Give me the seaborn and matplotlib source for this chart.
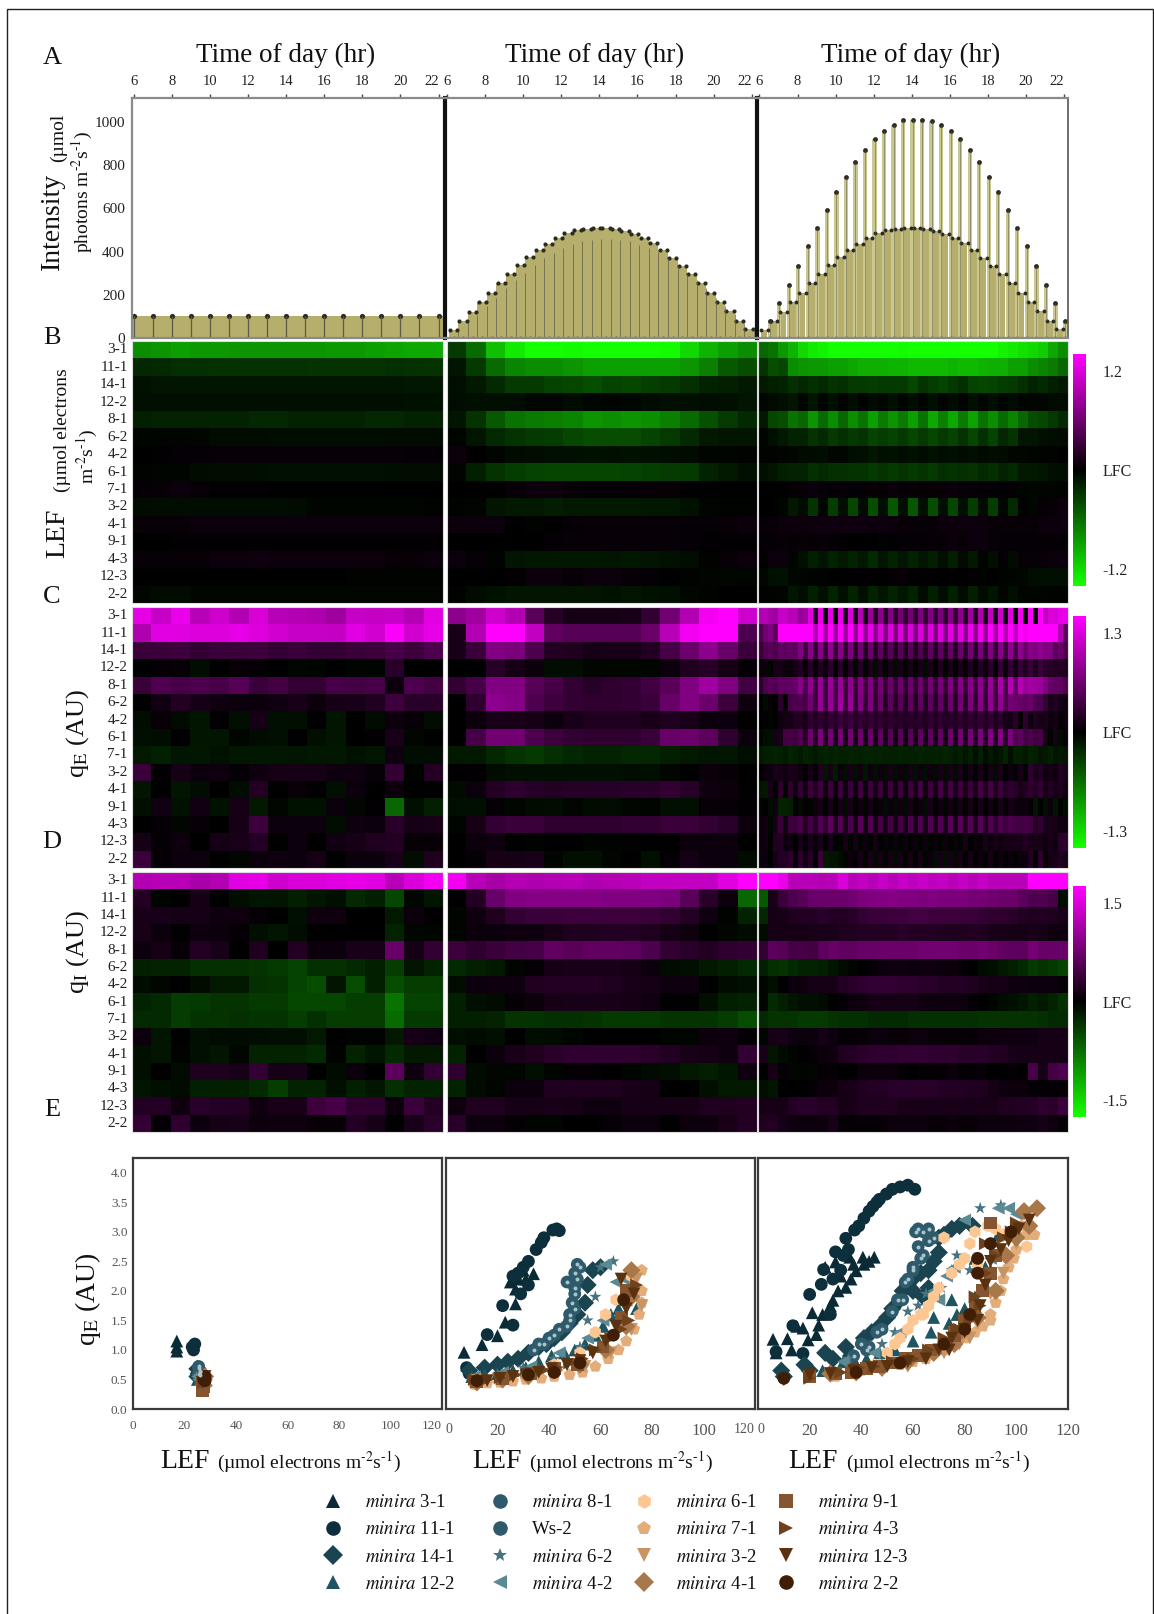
import numpy as np
import pandas as pd
import seaborn as sns
from matplotlib import pyplot as plt
from matplotlib.colors import LinearSegmentedColormap
from matplotlib.lines import Line2D
from matplotlib.patches import Rectangle

W, H = 1154, 1614

# row labels of the heatmaps
heat_lines = ['3-1', '11-1', '14-1', '12-2', '8-1', '6-2', '4-2', '6-1', '7-1', '3-2', '4-1', '9-1', '4-3', '12-3', '2-2']

# light regimes (umol photons)
hours = list(range(6, 23))
low_light = [100, 102, 100, 102, 100, 100, 100, 100, 100, 100, 102, 100, 102, 100, 102, 102, 100]
dome_light = [38, 77, 119, 165, 208, 255, 296, 336, 373, 409, 435, 463, 486, 500, 506, 508, 508, 506, 497, 480, 463, 440, 409, 370, 332, 296, 255, 208, 167, 123, 77, 40]
peak_light = [77, 162, 247, 335, 424, 509, 594, 676, 745, 815, 872, 921, 957, 988, 1008, 1011, 1011, 1003, 985, 957, 921, 869, 815, 745, 674, 594, 509, 424, 335, 247, 162, 77]

# heat values, percent of the colour scale (magenta +, green -)
lef_left = [
    [-55, -58, -62, -60, -60, -58, -58, -58, -58, -58, -60, -60, -62, -64, -66, -66],
    [-15, -16, -18, -18, -19, -19, -19, -19, -19, -20, -20, -20, -20, -18, -19, -20],
    [-7, -8, -8, -8, -8, -8, -8, -8, -8, -8, -8, -8, -8, -8, -9, -9],
    [-6, -6, -6, -6, -6, -6, -6, -6, -6, -6, -6, -6, -6, -6, -7, -7],
    [-12, -14, -14, -14, -14, -14, -15, -15, -14, -14, -14, -14, -15, -15, -14, -14],
    [-2, -2, -2, -3, -4, -4, -4, -5, -5, -5, -5, -5, -5, -4, -4, -4],
    [0, 1, 2, 2, 3, 3, 3, 3, 3, 3, 3, 3, 3, 3, 2, 2],
    [-1, -2, -2, -4, -5, -5, -5, -6, -6, -6, -6, -6, -6, -5, -5, -5],
    [2, 3, 4, 3, 1, 1, 1, 0, 0, 0, 0, 0, 0, 0, 0, 0],
    [-4, -5, -5, -5, -5, -5, -5, -5, -4, -2, -2, -2, -2, -2, -2, -1],
    [3, 3, 3, 4, 4, 4, 4, 5, 5, 4, 4, 4, 4, 4, 4, 4],
    [0, 0, 1, 1, 1, 1, 1, 1, 1, 1, 1, 1, 1, 1, 1, 1],
    [3, 3, 3, 3, 4, 5, 6, 5, 4, 4, 4, 4, 4, 3, 3, 5],
    [0, 0, 0, 0, 0, 0, 0, 0, 0, 0, 0, -1, -1, -1, -1, -1],
    [-3, -4, -4, -3, -3, -3, -3, -3, -3, -3, -3, -3, -3, -3, -3, -3],
]
lef_mid = [
    [-22, -42, -75, -92, -100, -100, -98, -100, -100, -100, -100, -98, -85, -70, -62, -55],
    [-8, -22, -42, -52, -55, -55, -58, -62, -62, -62, -62, -62, -58, -50, -35, -30],
    [-6, -10, -16, -22, -22, -26, -28, -30, -26, -28, -25, -22, -18, -14, -12, -10],
    [-5, -6, -6, -5, -3, -3, -4, -3, -2, -3, -4, -6, -6, -5, -6, -8],
    [-8, -20, -35, -45, -48, -50, -52, -58, -56, -58, -56, -50, -42, -32, -22, -16],
    [-2, -8, -16, -20, -22, -24, -28, -30, -30, -30, -26, -22, -16, -10, -8, -8],
    [4, 0, -2, -4, -5, -6, -6, -7, -6, -7, -6, -5, -4, -2, -2, -1],
    [-2, -12, -20, -24, -26, -27, -27, -27, -27, -26, -25, -23, -22, -14, -10, -6],
    [0, 0, 0, 3, 4, 4, 3, 2, 2, 2, 3, 3, 1, 0, 0, 0],
    [-1, -2, -8, -10, -10, -11, -10, -10, -10, -10, -9, -9, -7, -2, -1, -1],
    [5, 5, 4, 0, -1, 0, 2, 3, 3, 3, 3, 3, 2, 2, 3, 4],
    [0, 0, 0, 0, 0, 2, 3, 3, 3, 3, 3, 3, 2, 1, 1, 1],
    [5, 3, -1, -8, -9, -9, -9, -9, -8, -9, -8, -7, -5, -1, 3, 4],
    [0, 0, 0, 1, 4, 4, 3, 4, 4, 3, 2, 0, -1, -2, -3, -2],
    [-1, -4, -7, -8, -8, -8, -8, -8, -7, -8, -7, -6, -3, -1, 0, 0],
]
lef_right = [
    [-40, -45, -60, -70, -85, -92, -95, -100, -100, -100, -100, -100, -100, -100, -98, -100, -100, -100, -100, -100, -100, -100, -100, -100, -95, -92, -88, -85, -80, -65, -55],
    [-20, -30, -28, -55, -58, -60, -60, -62, -62, -65, -68, -68, -68, -70, -70, -72, -72, -72, -72, -70, -72, -72, -70, -68, -68, -62, -62, -55, -52, -48, -40],
    [-10, -12, -14, -18, -15, -18, -16, -20, -18, -22, -22, -24, -22, -22, -22, -28, -20, -24, -26, -22, -18, -26, -28, -26, -24, -22, -18, -14, -16, -12, -10],
    [-3, -4, -6, -8, -3, -8, -2, -6, -1, -5, -1, -4, -3, -6, -2, -5, -2, -6, -2, -4, -1, -6, -3, -6, -2, -4, -2, -3, -3, -4, -4],
    [-10, -28, -30, -45, -40, -58, -42, -55, -40, -56, -45, -62, -48, -58, -48, -62, -45, -66, -50, -66, -48, -64, -45, -56, -42, -52, -40, -30, -28, -22, -16],
    [-2, -6, -10, -14, -14, -20, -16, -22, -18, -22, -20, -26, -24, -26, -22, -28, -22, -28, -22, -26, -20, -28, -18, -26, -15, -20, -8, -8, -6, -5, -4],
    [-1, -1, -2, -3, -4, -4, -5, -3, -3, -5, -6, -8, -6, -7, -5, -7, -4, -7, -5, -6, -4, -6, -4, -5, -4, -3, -3, -2, -1, -1, 0],
    [-6, -8, -12, -14, -14, -18, -16, -18, -18, -20, -20, -22, -20, -22, -20, -22, -20, -22, -18, -20, -18, -20, -16, -18, -14, -16, -10, -10, -8, -6, -5],
    [0, 0, 0, 2, 3, 4, 3, 2, 3, 2, 2, 3, 2, 4, 2, 3, 2, 3, 3, 4, 3, 3, 2, 2, 1, 2, -2, -3, -2, -2, -1],
    [0, 0, -2, -10, -4, -20, -3, -24, -6, -28, -4, -30, -6, -34, -6, -34, -6, -30, -6, -28, -6, -24, -4, -24, -3, -16, -1, -3, 2, 3, 4],
    [2, 3, 4, 4, 4, 4, 6, 6, 6, 6, 6, 5, 6, 4, 3, 3, 3, 3, 4, 4, 5, 5, 4, 3, 3, 3, 3, 3, 4, 5, 4],
    [2, 2, 3, 2, 3, 2, 3, 2, 1, 0, 0, 0, -1, 1, 2, 2, 2, 3, 2, 4, 3, 4, 4, 3, 2, 2, 2, 2, 2, 2, 2],
    [1, 5, 5, -2, -6, -12, -8, -14, -10, -14, -10, -16, -8, -14, -8, -14, -8, -12, -6, -12, -4, -10, -2, -6, 2, -4, 3, 3, 3, 4, 5],
    [-3, -6, -7, -3, -2, -1, -1, 0, 0, 1, 1, 1, 0, 2, 3, 1, 1, 1, 0, 1, 0, 2, -1, 0, -1, -2, -3, -5, -6, -6, -6],
    [-1, -1, -2, -8, -5, -12, -6, -14, -6, -14, -6, -14, -8, -14, -8, -14, -4, -12, -5, -12, -4, -12, -4, -8, -2, -6, -2, -2, -2, -1, -1],
]

qe_left = [
    [90, 78, 92, 72, 80, 70, 84, 72, 70, 68, 62, 78, 76, 78, 70, 88],
    [68, 88, 88, 86, 86, 90, 86, 82, 78, 78, 76, 88, 82, 98, 82, 90],
    [22, 22, 24, 20, 22, 22, 24, 20, 22, 20, 20, 22, 24, 28, 24, 30],
    [0, 2, 3, -5, 0, 3, 2, 0, -3, -2, 0, -2, -2, 16, 0, 0],
    [22, 32, 28, 30, 28, 34, 22, 26, 20, 20, 28, 26, 28, 5, 30, 26],
    [0, 7, 14, 8, 6, 5, 5, 7, 10, 5, 8, 10, 12, 24, 16, 16],
    [-5, 3, -4, -8, 1, -6, 8, -6, -6, 1, -8, 0, -4, 5, 3, -5],
    [-6, -5, 1, -8, -8, -2, -4, -6, 0, -6, -8, 0, 1, 10, -3, 0],
    [-10, -12, -8, -9, -7, -9, -9, -9, -8, -9, -9, -7, -8, 6, -5, -5],
    [22, 1, 8, 5, 6, 2, 6, 8, 8, 8, 6, 6, 3, 20, -1, 14],
    [-8, 0, -8, -5, 0, -5, 14, 0, 3, 1, -6, 4, 0, 5, 0, 0],
    [-6, 7, -7, 7, -7, 8, -10, -3, -7, -7, 5, -3, 1, -40, -6, -12],
    [0, 2, -3, 3, 0, 8, 24, 5, 5, 5, -5, 6, 5, 16, 8, 10],
    [8, 2, 6, 0, 8, 10, 14, 0, 5, 0, 7, 8, 12, 14, 3, 3],
    [22, 2, 4, 4, 0, -3, 4, 6, 4, 8, 0, 5, 5, 10, -5, 12],
]
qe_mid = [
    [55, 62, 80, 70, 35, 15, 8, 8, 8, 10, 20, 45, 70, 95, 100, 80],
    [10, 70, 100, 100, 75, 38, 34, 34, 34, 34, 42, 72, 95, 100, 100, 30],
    [10, 22, 50, 48, 30, 14, 12, 8, 10, 10, 14, 28, 42, 55, 40, 22],
    [0, 0, 15, 8, 5, -5, -5, -3, -3, -3, -2, 5, 12, 15, 8, 2],
    [20, 28, 50, 50, 34, 28, 20, 15, 18, 20, 25, 35, 50, 62, 50, 25],
    [0, 18, 55, 52, 30, 24, 20, 18, 18, 20, 22, 40, 50, 42, 24, 6],
    [0, 4, 10, 10, 8, 5, 10, 12, 12, 12, 10, 12, 10, 5, 4, 0],
    [0, 28, 45, 45, 30, 24, 20, 18, 18, 18, 22, 40, 42, 36, 18, 4],
    [-10, -10, -15, -20, -22, -18, -15, -14, -14, -15, -15, -12, -10, -8, -8, -5],
    [0, 1, -4, -6, -6, -6, -6, -6, -6, -5, -6, -3, 0, 4, 3, 0],
    [-4, 5, 14, 18, 15, 14, 15, 15, 15, 16, 16, 20, 15, 6, 5, 0],
    [-6, -6, 2, -3, -4, -5, -3, -4, -5, -3, -2, -6, -6, 3, 3, 1],
    [-2, 8, 20, 22, 22, 18, 18, 18, 18, 20, 20, 22, 22, 20, 16, 4],
    [0, 5, 6, 0, -1, 0, 0, -2, -1, -1, 0, 0, 5, 5, 4, 0],
    [0, 2, 8, 8, 10, -2, -6, -6, -2, 0, -6, 2, 8, 4, 4, -4],
]
qe_right = [
    [70, 72, 65, 62, 78, 78, 72, 72, 60, 62, 88, 12, 92, 2, 90, 0, 92, 8, 85, 8, 70, 10, 60, 14, 55, 15, 50, 18, 45, 20, 45, 18, 48, 20, 50, 20, 48, 18, 52, 18, 55, 15, 62, 12, 68, 10, 75, 8, 80, 4, 88, 0, 95, 0, 100, 0, 100, 75, 85, 85, 90, 92],
    [30, 45, 50, 35, 100, 100, 100, 100, 100, 100, 100, 70, 100, 65, 100, 62, 100, 62, 100, 60, 95, 58, 90, 55, 85, 50, 85, 50, 85, 48, 85, 50, 85, 48, 85, 50, 88, 52, 88, 52, 90, 55, 92, 58, 95, 60, 100, 65, 100, 70, 100, 75, 100, 95, 100, 100, 100, 100, 100, 100, 70, 35],
    [22, 32, 35, 30, 38, 36, 38, 36, 50, 22, 52, 20, 52, 20, 56, 20, 52, 18, 48, 16, 44, 14, 40, 14, 36, 14, 34, 12, 34, 12, 34, 12, 32, 14, 36, 14, 36, 14, 38, 14, 40, 16, 44, 16, 46, 18, 50, 18, 52, 22, 56, 26, 55, 40, 52, 50, 55, 50, 50, 35, 40, 30],
    [5, 4, -2, 8, 8, 5, 5, 8, 12, 2, 15, 2, 12, 4, 16, 0, 16, 0, 14, -2, 14, -2, 10, -4, 10, -2, 10, -4, 8, -2, 8, 0, 8, -4, 10, 0, 12, -2, 10, 0, 10, 2, 12, 2, 14, 4, 15, 2, 20, 4, 20, 8, 20, 12, 22, 10, 22, 16, 15, 14, 14, 12],
    [18, 30, 35, 32, 38, 36, 38, 40, 52, 30, 55, 24, 58, 22, 60, 26, 58, 24, 55, 22, 52, 24, 48, 20, 44, 20, 42, 20, 42, 18, 40, 20, 42, 20, 44, 18, 46, 20, 48, 20, 50, 22, 52, 24, 55, 22, 58, 24, 65, 28, 70, 38, 70, 60, 62, 62, 60, 50, 40, 38, 38, 30],
    [0, -4, 3, 0, 16, 0, 28, 30, 32, 28, 44, 24, 58, 24, 58, 28, 62, 24, 58, 20, 50, 20, 48, 18, 40, 14, 36, 14, 34, 12, 36, 12, 36, 12, 36, 14, 38, 14, 40, 14, 44, 14, 48, 18, 52, 20, 56, 24, 56, 30, 46, 42, 40, 38, 42, 30, 30, 20, 10, 14, 8, 6],
    [0, 2, -2, 0, 6, 8, 8, 14, 12, 10, 18, 12, 18, 14, 20, 16, 22, 16, 22, 16, 20, 16, 20, 16, 18, 14, 18, 14, 16, 14, 16, 14, 16, 14, 18, 14, 18, 14, 16, 14, 18, 14, 18, 14, 20, 14, 20, 12, 16, 10, 8, 16, 2, 18, 4, 12, 8, 10, 4, 8, 2, 4],
    [-2, -6, -6, 8, 10, 26, 28, 24, 32, 16, 42, 14, 48, 12, 44, 10, 44, 10, 44, 10, 42, 8, 40, 8, 36, 8, 34, 6, 34, 6, 34, 8, 36, 8, 36, 8, 38, 8, 42, 10, 44, 10, 46, 12, 48, 14, 50, 14, 50, 16, 48, 30, 36, 26, 30, 24, 28, 10, -2, 10, -4, 2],
    [-10, -12, -12, -14, -12, -10, -14, -12, -10, -14, -12, -10, -12, -14, -12, -14, -12, -12, -14, -12, -12, -14, -14, -12, -14, -12, -12, -12, -14, -12, -12, -12, -14, -12, -12, -12, -12, -14, -12, -10, -12, -8, -12, -6, -12, -4, -10, -6, -8, -14, -6, -12, -12, -10, -14, -12, -8, -10, -12, -8, -10, -8],
    [0, 5, 5, 10, 8, 6, 10, 8, 5, 0, 8, 2, 12, -8, 8, -10, 5, -5, 8, -6, 6, -8, 6, -6, 6, -4, 8, -5, 6, -4, 8, -6, 6, -5, 6, -4, 8, -4, 8, -4, 10, -2, 8, -2, 10, -2, 8, -4, 10, 0, 6, -2, 8, -2, 18, 10, 14, 6, 8, 5, 14, 8],
    [-8, -10, 10, -2, 18, -2, 18, 4, 20, 6, 22, 14, 24, 6, 22, 4, 24, 6, 22, 6, 24, 4, 24, 8, 22, 6, 24, 6, 24, 6, 22, 8, 26, 6, 24, 8, 26, 8, 26, 10, 24, 10, 24, 10, 26, 12, 26, 12, 22, 14, 18, 16, 10, 14, 18, 14, 20, 8, 14, 8, 12, 6],
    [-2, 0, -4, 6, -14, -14, -12, 0, -4, 2, -2, 6, 8, -2, 10, 0, 8, -4, 8, -2, 6, -3, 8, -2, 4, -5, 5, -4, 6, -4, 8, -2, 6, -4, 8, -2, 6, -3, 8, -3, 8, -2, 8, 0, 8, 0, 8, -2, 10, 2, 8, 4, 4, 6, 2, -8, 0, -6, 4, -8, 0, -4],
    [4, 6, -2, 8, 22, 6, 24, 22, 28, 14, 28, 14, 32, 20, 36, 12, 32, 10, 30, 8, 34, 6, 32, 8, 28, 8, 26, 8, 28, 8, 30, 8, 30, 8, 32, 8, 32, 10, 34, 10, 34, 12, 34, 12, 34, 14, 32, 18, 30, 24, 30, 26, 26, 28, 26, 14, 20, 10, 10, 8, 6, 6],
    [4, 6, -1, 14, 14, 4, 6, 0, 8, 2, 10, 4, 10, -1, 10, -1, -1, 8, -2, 8, -2, 6, -2, 8, 0, 4, -2, 6, -2, 6, -1, 4, -2, 6, -2, 5, -2, 6, -1, 5, -2, 8, 0, 5, 2, 10, 4, 8, 6, 8, 8, 10, 10, 14, 10, 10, 8, 6, 10, 6, 16, 18],
    [4, 5, 0, 8, 14, 14, 18, 2, 18, 6, 16, -2, 24, -10, -8, -8, -4, -2, 4, 0, 8, -2, 10, -4, 8, -3, 8, -4, 8, -2, 8, 0, 8, -2, 4, -6, 8, -6, 8, -4, 8, -2, 8, -1, 6, -2, 8, -1, 6, 0, 4, -2, 4, 4, 14, 0, 18, 2, 8, 10, 12, 8],
]

qi_left = [
    [70, 72, 72, 66, 70, 88, 90, 80, 85, 85, 88, 90, 88, 72, 85, 95],
    [14, -2, 0, 8, 0, -5, -8, -8, -12, -8, -6, -16, -12, -28, -3, -8],
    [10, 10, 8, 8, 6, 6, 3, 0, -6, 6, 6, 0, 0, -10, 5, 1],
    [10, 4, 0, 6, 4, 2, -6, -8, -5, 0, 0, 0, 0, -14, -3, -2],
    [5, 8, 3, 14, 10, 0, 12, 0, 14, 5, 5, 10, 10, 40, 8, 20],
    [-12, -14, -14, -18, -18, -18, -20, -22, -26, -18, -18, -16, -12, -24, -8, -14],
    [-4, -3, 0, -4, -10, -10, -18, -20, -26, -30, -8, -30, -12, -30, -24, -24],
    [-14, -16, -24, -22, -20, -20, -22, -22, -28, -28, -28, -24, -24, -45, -26, -26],
    [-16, -16, -24, -20, -20, -18, -20, -20, -24, -18, -24, -24, -24, -42, -22, -22],
    [5, -8, 0, -6, -4, -4, -5, -6, -6, -10, 0, -1, -1, -10, 8, 7],
    [-6, -8, -1, -6, -8, -3, -14, -14, -14, -16, -1, -14, -8, -16, -10, -10],
    [-6, 0, -4, 12, 12, 10, 20, 8, 10, 0, -4, 4, 0, 36, 6, 20],
    [-8, -6, -4, -12, -12, -12, -16, -24, -14, -14, -6, -12, -8, -18, -14, -14],
    [14, 14, 6, 16, 14, 14, 6, 10, 10, 24, 28, 18, 18, 4, 22, 14],
    [20, 2, 18, 4, 8, 10, 4, 6, 6, 3, 3, 14, 8, 0, 10, 16],
]
qi_mid = [
    [95, 72, 65, 70, 68, 70, 72, 68, 70, 72, 75, 75, 75, 75, 88, 100],
    [0, 14, 40, 50, 52, 52, 52, 52, 50, 50, 50, 48, 35, 16, 5, -40],
    [-2, 6, 12, 20, 22, 22, 24, 24, 24, 24, 22, 20, 14, 6, -1, -14],
    [-2, 4, 5, 6, 6, 8, 12, 12, 14, 14, 12, 8, 6, 0, -3, -4],
    [24, 18, 22, 26, 28, 38, 35, 38, 38, 36, 30, 20, 16, 14, 18, 20],
    [-16, -12, -10, -2, 2, 8, 10, 10, 10, 8, 4, -4, -6, -10, -12, -16],
    [-5, 4, 6, 6, 12, 14, 14, 14, 12, 10, 8, 6, 6, 0, -4, -6],
    [-12, -6, -4, 2, 4, 8, 10, 10, 10, 8, 6, 0, 0, -6, -12, -14],
    [-12, -12, -14, -20, -20, -18, -18, -20, -22, -22, -22, -20, -20, -20, -24, -30],
    [-6, -4, -6, 0, -5, -4, -2, 0, 0, 0, 0, -2, -2, 4, 6, 2],
    [-14, 0, 4, 10, 12, 16, 18, 18, 18, 18, 16, 14, 10, 8, 6, 20],
    [18, -4, -3, -2, -6, -2, 2, 2, 0, -2, -4, -6, -10, -12, -8, 6],
    [-14, -4, -2, 5, 5, 12, 12, 12, 12, 10, 8, 0, 0, -6, -10, -10],
    [6, 12, 12, 8, 8, 10, 8, 6, 6, 8, 8, 8, 8, 12, 12, 14],
    [16, 4, 4, 2, -2, -2, 0, 0, 2, 4, 4, 0, 4, 4, 10, 14],
]
qi_right = [
    [100, 100, 92, 72, 72, 72, 70, 72, 85, 72, 75, 72, 78, 72, 78, 74, 78, 74, 76, 72, 76, 72, 76, 72, 72, 72, 72, 98, 100, 100, 100],
    [-35, 10, 22, 30, 34, 40, 42, 42, 42, 44, 48, 50, 50, 52, 50, 50, 48, 50, 48, 48, 48, 46, 46, 44, 42, 42, 36, 30, 32, 28, -5],
    [-15, 8, 10, 12, 14, 14, 16, 14, 14, 16, 20, 22, 22, 24, 24, 26, 26, 24, 24, 24, 22, 22, 20, 18, 18, 16, 14, 12, 14, 12, 10],
    [-4, 8, 8, 8, 8, 10, 10, 10, 12, 12, 14, 14, 14, 14, 16, 14, 14, 14, 12, 12, 12, 14, 12, 10, 10, 8, 8, 10, 8, 6, 6],
    [20, 36, 34, 28, 28, 26, 36, 40, 38, 38, 40, 40, 42, 42, 42, 42, 44, 44, 44, 44, 42, 42, 44, 42, 38, 36, 36, 46, 40, 40, 40],
    [-12, -18, -20, -16, -14, -14, -12, -8, -4, -2, 0, 2, 4, 6, 6, 4, 6, 6, 4, 4, 2, 0, -4, -6, -10, -12, -16, -22, -20, -22, -26],
    [-2, -6, 0, 4, 6, 8, 8, 8, 14, 16, 18, 20, 20, 20, 18, 18, 16, 16, 14, 14, 14, 12, 10, 8, 8, 6, 6, 4, 4, 4, 2],
    [-2, -16, -12, -8, -6, -6, -4, 0, 2, 4, 6, 8, 8, 8, 8, 8, 6, 6, 6, 6, 4, 2, 0, -2, -4, -6, -8, -12, -10, -14, -18],
    [-16, -20, -20, -20, -22, -22, -22, -20, -18, -18, -18, -16, -16, -16, -16, -18, -18, -18, -18, -18, -18, -18, -20, -20, -20, -20, -20, -20, -18, -16, -16],
    [-2, 8, 10, 6, 4, 4, 8, 6, 2, 2, 3, 4, 4, 3, 3, 4, 4, 3, 3, 3, 3, 2, 4, 4, 6, 6, 6, 6, 8, 8, 8],
    [10, -8, -4, -2, 0, 2, 4, 6, 12, 14, 16, 18, 18, 18, 20, 20, 20, 18, 18, 18, 16, 16, 16, 14, 12, 10, 8, 8, 8, 8, 8],
    [0, 8, 2, -3, -2, -3, 2, 2, 0, 0, 4, 4, 5, 5, 2, 0, 2, 2, 2, 4, 2, 2, 3, 0, 0, 2, 0, 28, 8, 26, 30],
    [-6, -8, 0, 0, 0, 2, 4, 4, 8, 10, 12, 14, 14, 16, 16, 16, 16, 16, 14, 14, 14, 12, 12, 8, 6, 4, 4, 2, 2, 2, 2],
    [8, 10, 8, 14, 16, 16, 14, 14, 8, 10, 12, 12, 12, 12, 10, 10, 10, 10, 10, 10, 10, 10, 10, 10, 12, 12, 14, 14, 18, 16, 22],
    [12, 14, 8, 6, 4, 4, 4, 10, 2, 2, 2, 2, 3, 4, 4, 4, 4, 3, 3, 4, 3, 3, 4, 4, 4, 4, 6, 6, 8, 6, 2],
]

# scatter legend
lines = ['minira 3-1', 'minira 11-1', 'minira 14-1', 'minira 12-2', 'minira 8-1', 'Ws-2', 'minira 6-2', 'minira 4-2',
         'minira 6-1', 'minira 7-1', 'minira 3-2', 'minira 4-1', 'minira 9-1', 'minira 4-3', 'minira 12-3', 'minira 2-2']
line_colors = ['#0a2a35', '#0c2f3b', '#1a4450', '#1f5560', '#2e5a6b', '#2e5a6b', '#46737f', '#5a8a94',
               '#fdc793', '#e3ac78', '#c79465', '#a8774a', '#84552e', '#6d421c', '#5a3210', '#3f1e05']
line_markers = ['^', 'o', 'D', '^', 'o', 'o', '*', '<', 'h', 'p', 'v', 'D', 's', '>', 'v', 'o']

# LEF / qE per line, 100 umol regime
lef_low = [[17, 17, 17], [23, 24, 23.5], [25, 25.5, 25], [25, 25.5, 26], [25.5, 26, 25.5], [25.5, 26, 26], [25, 26, 25.5], [26, 25.5, 25],
           [27, 27.5, 27], [27.5, 28, 27.5], [27, 27.5, 27], [27.5, 28, 27.5], [27, 27.5, 27], [27.5, 28, 27.5], [28, 27.5, 27], [28, 27.5, 28]]
qe_low = [[.98, 1.05, 1.15], [1.05, 1.1, 1.0], [.68, .6, .55], [.5, .6, .55], [.72, .65, .6], [.7, .62, .58], [.55, .6, .5], [.58, .5, .55],
          [.5, .55, .45], [.5, .55, .42], [.5, .45, .38], [.5, .55, .4], [.45, .38, .32], [.55, .5, .45], [.55, .5, .45], [.55, .5, .48]]

# LEF / qE per line, 500 umol regime
lef_dome = [
    [7, 14, 20, 23, 27, 27, 27, 34, 30, 28, 25, 31],
    [8, 16, 22, 26, 29, 32, 32, 35, 38, 41.5, 44, 28, 26, 43, 9, 30, 37],
    [9, 20, 28, 36, 42, 48, 54, 55, 57, 60, 15, 24, 32, 39, 45, 51],
    [10, 20, 31, 41, 50, 58, 64, 70, 72, 74, 15, 26, 36, 46, 54, 61, 67],
    [36, 40, 44, 48, 49, 50, 50, 51, 47],
    [34, 38, 42, 47, 50, 50, 51, 52, 48],
    [10, 20, 30, 42, 52, 55, 58, 60, 65],
    [11, 22, 33, 44, 55, 61, 66, 69, 62],
    [11, 21, 32, 42, 52, 58, 62, 66, 72],
    [11, 21, 31, 42, 53, 63, 70, 75, 76, 76, 16, 26, 37, 48, 58, 67, 73, 76],
    [12, 21, 33, 43, 54, 64, 72, 76, 74],
    [12, 22, 32, 42, 52, 62, 70, 72, 72],
    [12, 22, 33, 42, 51, 61, 68, 70],
    [11, 21, 33, 43, 53, 64, 71, 74, 16, 27, 38, 48, 58, 68],
    [12, 21, 31, 41, 52, 62, 70, 73, 68, 16, 26, 36, 47, 57, 66],
    [12, 32, 42, 52, 65, 69],
]
qe_dome = [
    [.96, 1.09, 1.24, 1.47, 1.78, 2.03, 2.29, 2.29, 2.35, 2.2, 2.15, 2.2],
    [.7, 1.26, 1.75, 1.42, 1.95, 2.1, 2.5, 2.7, 2.9, 3.03, 3.02, 2.3, 2.25, 3.05, .6, 2.4, 2.82],
    [.65, .75, .85, 1.05, 1.2, 1.45, 1.8, 2.1, 2.35, 2.4, .7, .8, .95, 1.1, 1.3, 1.6],
    [.55, .6, .7, .9, 1.0, 1.25, 1.6, 1.85, 2.05, 1.7, .58, .65, .8, .95, 1.1, 1.4, 1.7],
    [1.1, 1.2, 1.35, 1.5, 1.8, 2.05, 2.3, 2.45, 2.15],
    [1.0, 1.1, 1.25, 1.4, 1.7, 1.95, 2.2, 2.4, 1.6],
    [.5, .58, .7, .85, 1.05, 1.5, 1.9, 2.4, 2.5],
    [.55, .62, .72, .95, 1.2, 1.5, 2.15, 2.2, 2.45],
    [.42, .47, .6, .75, .95, 1.3, 1.6, 1.85, 2.25],
    [.42, .45, .5, .55, .62, .85, 1.15, 1.6, 2.0, 2.35, .44, .47, .52, .58, .72, 1.0, 1.35, 1.8],
    [.48, .5, .55, .62, .72, .95, 1.35, 1.75, 2.2],
    [.45, .5, .56, .66, .75, 1.0, 1.4, 1.9, 2.35],
    [.47, .52, .6, .68, .75, 1.05, 1.55, 2.0],
    [.5, .53, .62, .7, .85, 1.2, 1.5, 2.1, .5, .58, .66, .78, 1.0, 1.35],
    [.45, .52, .58, .68, .82, 1.15, 1.7, 1.95, 2.2, .48, .55, .62, .75, .95, 1.4],
    [.48, .58, .62, .78, 1.25, 1.85],
]

# LEF / qE per line, 1000/500 umol regime
lef_peak = [
    [5.8, 7, 11.4, 13, 17.4, 19.4, 22.6, 23.5, 21, 29, 34, 38, 45, 40.6, 35.5, 30, 26, 32, 37, 15, 25, 28, 31, 36, 41, 43],
    [7, 13.5, 17.4, 20, 24.5, 25.4, 30, 34, 37.4, 41, 44.5, 49.7, 55, 58, 60.7, 52, 47, 39, 28, 32, 43, 46, 29, 33, 35],
    [9, 10, 18, 20, 26, 29, 34, 36, 41, 47, 52, 56, 61, 66, 70, 70, 75, 83, 55, 60, 44, 50, 58, 63, 68, 72, 78, 64, 66],
    [25, 33, 42, 47, 60, 74, 80, 88, 90, 93, 100, 68, 84, 37, 53, 67, 77, 84, 92, 88, 75],
    [40, 43, 48, 52, 56, 58, 60, 63, 62, 62, 66, 68],
    [37, 42, 46, 54, 57, 60, 64, 61, 64, 66],
    [35, 48, 53, 58, 65, 71, 75, 77, 90, 86, 94, 62, 82],
    [33, 45, 55, 68, 73, 76, 90, 93, 97, 100, 80, 70],
    [45, 50, 55, 60, 66, 70, 75, 80, 84, 89, 95, 72, 85, 64, 53, 58, 63, 68, 78, 82, 92, 98, 104],
    [30, 40, 55, 65, 80, 87, 92, 95, 97, 100, 104, 107, 90, 102, 47, 60, 72, 84, 90, 94, 99],
    [28, 38, 48, 58, 68, 78, 85, 90, 95, 100, 104, 72, 82],
    [28, 38, 48, 58, 68, 78, 85, 92, 100, 103, 108, 76, 96, 105],
    [20, 30, 42, 52, 62, 72, 80, 87, 92, 90, 76, 84, 36, 47, 57, 67, 76, 84, 90],
    [20, 32, 45, 60, 72, 82, 84, 88, 95, 100, 78, 39, 52, 66, 77, 86, 92, 98, 88],
    [10, 20, 37, 50, 65, 75, 85, 86, 90, 97, 105, 74, 80, 28, 44, 58, 70, 80, 88, 94, 101],
    [10, 38, 55, 72, 82, 85, 85, 90, 80, 98],
]
qe_peak = [
    [1.18, .95, 1.19, 1.0, 1.37, 1.17, 1.26, 1.42, 1.63, 1.84, 2.06, 2.34, 2.57, 2.57, 2.57, 2.49, 2.4, 2.25, 2.45, 1.4, 1.6, 1.75, 2.0, 2.2, 2.45, 2.5],
    [.97, 1.41, .94, 1.94, 2.11, 2.36, 2.66, 2.89, 3.03, 3.23, 3.43, 3.64, 3.76, 3.79, 3.72, 3.72, 3.55, 3.1, 1.6, 2.35, 3.35, 3.5, 2.2, 2.6, 2.7],
    [.65, .55, .75, .65, .95, .85, 1.05, .9, 1.2, 1.4, 1.7, 2.0, 2.25, 2.35, 2.65, 2.9, 3.05, 3.1, 1.85, 2.0, 1.3, 1.55, 2.1, 2.3, 2.5, 2.95, 3.1, 1.9, 2.05],
    [.65, .8, .85, .95, 1.15, 1.45, 1.7, 2.1, 2.35, 2.95, 3.0, 1.55, 2.55, .85, 1.0, 1.3, 1.6, 1.9, 2.6, 2.4, 1.85],
    [1.1, 1.05, 1.35, 1.65, 1.85, 2.2, 2.35, 2.55, 2.75, 3.05, 3.05, 2.9],
    [.9, 1.0, 1.3, 1.85, 2.15, 2.4, 2.6, 3.0, 3.0, 2.85],
    [.85, 1.1, 1.3, 1.65, 1.95, 2.05, 2.35, 2.6, 2.8, 3.4, 3.45, 1.75, 2.35],
    [.8, .95, 1.3, 2.0, 2.25, 2.4, 2.55, 3.4, 3.4, 3.3, 3.2, 1.85],
    [.75, .95, 1.2, 1.5, 1.75, 2.05, 2.3, 2.55, 3.0, 3.1, 2.95, 2.9, 2.45, 1.6, 1.1, 1.35, 1.6, 1.9, 2.45, 2.8, 3.05, 2.6, 2.75],
    [.55, .65, .75, .85, 1.2, 1.4, 1.8, 2.2, 2.4, 2.7, 2.95, 2.95, 1.5, 3.1, .7, .8, 1.0, 1.3, 1.6, 2.0, 2.55],
    [.58, .6, .65, .72, .95, 1.1, 1.45, 1.95, 2.3, 2.8, 3.3, .95, 1.2],
    [.6, .62, .7, .8, .95, 1.3, 1.55, 2.0, 2.9, 3.35, 3.4, 1.1, 2.6, 3.1],
    [.55, .6, .68, .78, .9, 1.1, 1.5, 2.0, 2.6, 3.15, 1.25, 1.7, .62, .72, .85, 1.0, 1.3, 1.75, 2.3],
    [.52, .62, .72, .85, 1.2, 1.5, 1.9, 2.3, 2.9, 3.15, 1.35, .7, .8, 1.0, 1.35, 1.75, 2.6, 3.0, 2.8],
    [.5, .58, .65, .72, .85, 1.2, 1.5, 1.75, 2.5, 2.85, 3.2, 1.0, 1.3, .6, .7, .8, 1.0, 1.35, 2.1, 2.7, 3.05],
    [.52, .62, .78, 1.1, 1.6, 2.3, 2.55, 2.8, 1.35, 3.0],
]

fig = plt.figure(figsize=(W / 100, H / 100), dpi=100)
sns.set_theme(style='white')
plt.rcParams['font.family'] = ['Liberation Serif', 'DejaVu Sans']
plt.rcParams['mathtext.fontset'] = 'stix'

ink = '#222222'
lfc_cmap = LinearSegmentedColormap.from_list('lfc', ['#14ff00', '#000000', '#ff00ff'])


def box(x0, y0, x1, y1):
    return fig.add_axes([x0 / W, 1 - y1 / H, (x1 - x0) / W, (y1 - y0) / H])


def label(x, y, text, size, rotation=0, ha='center'):
    fig.text(x / W, 1 - y / H, text, fontsize=size, rotation=rotation, ha=ha, va='center', color='#111111')


def light_panel(ax, show_y, right_spine):
    ax.set_ylim(0, 1111)
    ax.set_xticks(range(6, 23, 2))
    ax.xaxis.tick_top()
    ax.set_xlabel('')
    ax.set_ylabel('')
    ax.set_yticks(range(0, 1001, 200))
    ax.set_yticks(range(100, 1100, 200), minor=True)
    ax.tick_params(axis='x', length=3, width=1, color='#444444', labelsize=10.5, labelcolor=ink, pad=4)
    ax.tick_params(axis='y', which='both', length=3 if show_y else 0, width=1, color='#444444', labelsize=11, labelcolor=ink, pad=2, labelleft=show_y)
    ax.get_xticklabels()[-1].set_ha('right')
    for name in ['top', 'left', 'bottom']:
        ax.spines[name].set_color('#8a8a8a')
        ax.spines[name].set_linewidth(1.6)
    ax.spines['left'].set_visible(show_y)
    ax.spines['right'].set_color(right_spine[0])
    ax.spines['right'].set_linewidth(right_spine[1])
    ax.patch.set_alpha(0)


olive = '#b5ae6c'
pale_olive = '#cbc790'
stem = '#5c5b45'
dot = '#2b2b24'
half_hours = np.arange(6.35, 22, 0.5)
peak_hours = np.arange(6.54, 22.2, 0.5)
shade_hours = np.arange(6.26, 22, 0.5)

# panel A, constant light
ax = box(132, 98, 445, 338)
sns.barplot(x=hours, y=low_light, native_scale=True, width=1.0, color=olive, saturation=1, errorbar=None, linewidth=0, ax=ax)
ax.vlines(hours, 0, low_light, colors=stem, lw=0.9)
sns.scatterplot(x=hours, y=low_light, color=dot, s=14, linewidth=0, ax=ax)
sns.scatterplot(x=hours, y=[0] * len(hours), color=dot, s=7, linewidth=0, ax=ax)
ax.set_xlim(5.9, 22.34)
light_panel(ax, True, ('#111111', 3.0))

# panel A, 500 dome
ax = box(445, 98, 757, 338)
sns.barplot(x=half_hours, y=dome_light, native_scale=True, width=1.0, color=olive, saturation=1, errorbar=None, linewidth=0, ax=ax)
ax.vlines(half_hours + 0.25, 0, np.array(dome_light) * 0.9, colors=stem, lw=0.7, alpha=0.7)
sns.scatterplot(x=np.concatenate([half_hours - 0.19, half_hours + 0.19]), y=dome_light * 2, color=dot, s=9, linewidth=0, ax=ax)
sns.scatterplot(x=half_hours, y=[0] * len(half_hours), color=dot, s=7, linewidth=0, ax=ax)
ax.set_xlim(5.9, 22.27)
light_panel(ax, False, ('#111111', 3.0))

# panel A, 1000/500 alternating
ax = box(757, 98, 1068, 338)
sns.barplot(x=peak_hours, y=peak_light, native_scale=True, width=0.45, color=pale_olive, saturation=1, errorbar=None, linewidth=0, ax=ax)
sns.barplot(x=shade_hours, y=dome_light, native_scale=True, width=0.62, color=olive, saturation=1, errorbar=None, linewidth=0, ax=ax)
ax.vlines(peak_hours, 0, peak_light, colors=stem, lw=0.5, alpha=0.7)
sns.scatterplot(x=peak_hours, y=peak_light, color=dot, s=12, linewidth=0, ax=ax)
sns.scatterplot(x=np.concatenate([shade_hours - 0.17, shade_hours + 0.17]), y=dome_light * 2, color=dot, s=8, linewidth=0, ax=ax)
sns.scatterplot(x=peak_hours, y=[0] * len(peak_hours), color=dot, s=7, linewidth=0, ax=ax)
ax.set_xlim(5.87, 22.2)
light_panel(ax, False, ('#555555', 1.2))


def heat(ax, rows, first=False, cbar_ax=None, cbar_label=''):
    frame = pd.DataFrame(rows, index=heat_lines)
    sns.heatmap(frame, ax=ax, cmap=lfc_cmap, vmin=-100, vmax=100, xticklabels=False, yticklabels=first,
                cbar=cbar_ax is not None, cbar_ax=cbar_ax)
    ax.set_xlabel('')
    ax.set_ylabel('')
    ax.tick_params(axis='y', length=0, labelsize=11, labelcolor=ink, pad=3, labelrotation=0)
    for spine in ax.spines.values():
        spine.set_visible(True)
        spine.set_color('#dcdcdc')
        spine.set_linewidth(0.8)
    if cbar_ax is not None:
        cbar = ax.collections[0].colorbar
        cbar.set_ticks([-85, 0, 85])
        cbar.set_ticklabels(['-' + cbar_label, 'LFC', cbar_label])
        cbar.ax.tick_params(length=0, labelsize=11.5, pad=12, labelcolor=ink)
        cbar.outline.set_visible(False)


x_spans = [(132, 443), (447, 757), (758, 1068)]
bands = [
    ((341, 603), (lef_left, lef_mid, lef_right), (354, 586), '1.2'),
    ((607, 868), (qe_left, qe_mid, qe_right), (616, 848), '1.3'),
    ((872, 1132), (qi_left, qi_mid, qi_right), (886, 1117), '1.5'),
]
for (y0, y1), tables, (c0, c1), tick in bands:
    heat(box(x_spans[0][0], y0, x_spans[0][1], y1), tables[0], first=True)
    heat(box(x_spans[1][0], y0, x_spans[1][1], y1), tables[1])
    heat(box(x_spans[2][0], y0, x_spans[2][1], y1), tables[2], cbar_ax=box(1073, c0, 1086, c1), cbar_label=tick)


def phase(ax, lefs, qes, order):
    names, xs, ys = [], [], []
    for name, lef, qe in zip(lines, lefs, qes):
        names += [name] * len(lef)
        xs += list(lef)
        ys += list(qe)
    frame = pd.DataFrame({'lef': xs, 'qe': ys, 'line': names})
    sns.scatterplot(data=frame, x='lef', y='qe', hue='line', style='line', palette=dict(zip(lines, line_colors)),
                    markers=dict(zip(lines, line_markers)), s=85, linewidth=0, legend=False, ax=ax, clip_on=False)
    glossy = frame[frame['line'].isin(['minira 8-1', 'Ws-2'])]
    sns.scatterplot(data=glossy, x='lef', y='qe', color='#a9c6cc', s=8, linewidth=0, legend=False, ax=ax)
    ax.set_xlim(0, 120)
    ax.set_ylim(0, 4.25)
    ax.set_xlabel('')
    ax.set_ylabel('')
    ax.set_xticks(range(0, 121, 20))
    ax.set_yticks(np.arange(0, 4.1, 0.5))
    first = order == 0
    ax.tick_params(axis='x', length=3, width=1, color='#333333', labelsize=9.5 if first else 12, labelcolor='#555555', pad=5 if first else 7)
    ax.tick_params(axis='y', length=3 if first else 0, width=1, color='#333333', labelsize=9.5, labelcolor='#555555', pad=1, labelleft=first)
    if first:
        ax.set_yticklabels([f'{v:.1f}' for v in np.arange(0, 4.1, 0.5)])
    else:
        ax.get_xticklabels()[0].set_ha('left')
        ax.get_xticklabels()[0].set_fontsize(10)
    if order < 2:
        ax.get_xticklabels()[-1].set_ha('right')
    if order == 1:
        ax.get_xticklabels()[-1].set_fontsize(10)
    for spine in ax.spines.values():
        spine.set_visible(True)
        spine.set_color('#3a3a3a')
        spine.set_linewidth(1.6)


phase(box(133, 1158, 442, 1409), lef_low, qe_low, 0)
phase(box(446, 1158, 755, 1409), lef_dome, qe_dome, 1)
phase(box(758, 1158, 1068, 1409), lef_peak, qe_peak, 2)

# titles and axis text
for x in [286, 595, 911]:
    label(x, 55, 'Time of day (hr)', 19.5)
for y, letter in zip([58, 338, 597, 842, 1110], 'ABCDE'):
    label(52, y, letter, 19)

sup = r'm$^{\text{-}2}$s$^{\text{-}1}$)'
label(52, 221, 'Intensity', 20, rotation=90)
label(58, 138, '(µmol', 14, rotation=90)
label(82, 192, 'photons ' + sup, 14, rotation=90)
label(58, 533, 'LEF', 20, rotation=90)
label(62, 430, '(µmol electrons', 14, rotation=90)
label(87, 456, sup, 14, rotation=90)
label(78, 733, r'q$_{\mathrm{E}}$ (AU)', 19, rotation=90)
label(78, 952, r'q$_{\mathrm{I}}$ (AU)', 19, rotation=90)
label(88, 1299, r'q$_{\mathrm{E}}$ (AU)', 20, rotation=90)

for x_big, x_small in [(160, 217), (472, 529), (788, 846)]:
    label(x_big, 1461, 'LEF', 20, ha='left')
    label(x_small, 1462, '(µmol electrons ' + sup, 14, ha='left')

# legend, four hand-placed columns
handles = [Line2D([], [], linestyle='', marker=m, color=c, markersize=10.5, markeredgewidth=0) for m, c in zip(line_markers, line_colors)]
names = [n.replace('minira', r'$\mathit{minira}$') for n in lines]
for col, left in enumerate([320, 487, 631, 773]):
    fig.legend(handles[col * 4:col * 4 + 4], names[col * 4:col * 4 + 4], loc='upper left', bbox_to_anchor=(left / W, 1 - 1494 / H),
               frameon=False, fontsize=13.5, handlelength=1.4, handletextpad=1.0, borderpad=0, borderaxespad=0, labelspacing=0.54,
               labelcolor='#111111')

fig.add_artist(Rectangle((7 / W, -0.02), 1146 / W, 1 + 0.02 - 9 / H, transform=fig.transFigure, fill=False, edgecolor='#222222', linewidth=1.0))

fig.savefig('out.png', dpi=100)
